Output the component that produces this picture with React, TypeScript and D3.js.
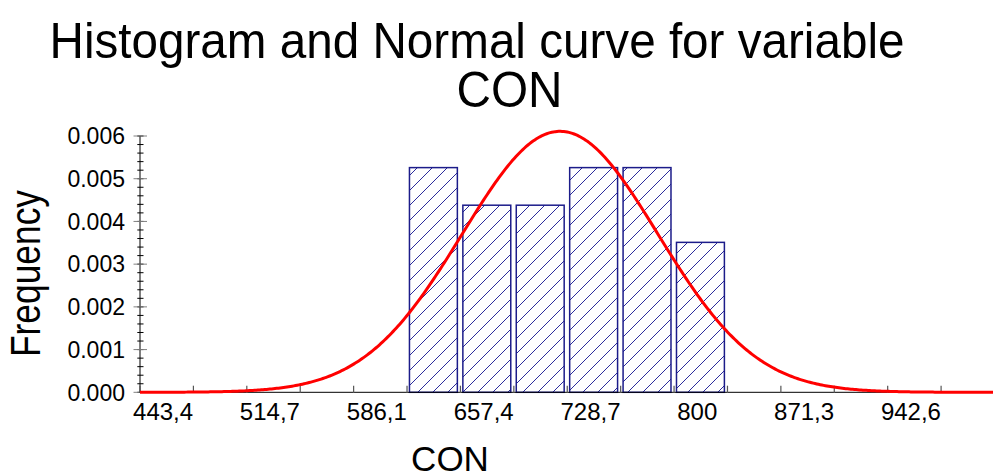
import React from "react";
import * as d3 from "d3";

// Histogram bins (lower edges) and their density heights
const binStarts = [606.2, 641.85, 677.5, 713.15, 748.8, 784.45];
const binWidth = 35.65;
const binDensity = [0.00526, 0.00438, 0.00438, 0.00526, 0.00526, 0.00351];

// Fitted normal distribution
const curveMean = 708.4;
const curveSd = 65.3;

// Axis labels
const xTickValues = [443.4, 514.7, 586.1, 657.4, 728.7, 800, 871.3, 942.6];
const xTickLabels = ["443,4", "514,7", "586,1", "657,4", "728,7", "800", "871,3", "942,6"];
const yTickValues = [0, 0.001, 0.002, 0.003, 0.004, 0.005, 0.006];
const yTickLabels = ["0.000", "0.001", "0.002", "0.003", "0.004", "0.005", "0.006"];

const titleLines = ["Histogram and Normal curve for variable", "CON"];
const xTitle = "CON";
const yTitle = "Frequency";

const W = 993;
const H = 474;
const FONT = "'Liberation Sans', Arial, Helvetica, sans-serif";

export default function App() {
  const xMin = 428.0;
  const xMax = 998.4;
  const x = d3.scaleLinear().domain([xMin, xMax]).range([140, 994.5]);
  const y = d3.scaleLinear().domain([0, 0.006]).range([392.3, 136]);

  // bin-edge tick marks along the x axis
  const xMarks = d3.range(xMin, xMax + 0.01, binWidth);
  // minor ticks on the y axis
  const yMinor = d3.range(0, 0.00601, 0.0002);

  const pdf = (v: number) =>
    Math.exp(-0.5 * ((v - curveMean) / curveSd) ** 2) / (curveSd * Math.sqrt(2 * Math.PI));
  const samples = d3.range(0, 501).map((i) => xMin + ((xMax - xMin) * i) / 500);
  const line = d3
    .line<number>()
    .x((v) => x(v))
    .y((v) => y(pdf(v)))
    .curve(d3.curveLinear);

  return (
    <svg
      width={W}
      height={H}
      viewBox={`0 0 ${W} ${H}`}
      style={{ position: "absolute", left: 0, top: 0, background: "#fff" }}
      fontFamily={FONT}
    >
      <defs>
        <pattern id="hatch" patternUnits="userSpaceOnUse" width={15} height={15}>
          <rect width={15} height={15} fill="#fff" />
          <path
            d="M0,15 L15,0 M-3.75,3.75 L3.75,-3.75 M11.25,18.75 L18.75,11.25"
            stroke="#2b2b9c"
            strokeWidth={1}
          />
        </pattern>
      </defs>
      <rect width={W} height={H} fill="#fff" />

      {/* title */}
      <text x={477} y={58} fontSize={50} textAnchor="middle" textLength={855} lengthAdjust="spacingAndGlyphs">
        {titleLines[0]}
      </text>
      <text x={509.5} y={107} fontSize={50} textAnchor="middle" textLength={106} lengthAdjust="spacingAndGlyphs">
        {titleLines[1]}
      </text>

      {/* bars */}
      {binStarts.map((b, i) => (
        <rect
          key={i}
          x={x(b) + 2.5}
          y={y(binDensity[i])}
          width={x(b + binWidth) - x(b) - 5.5}
          height={y(0) - y(binDensity[i])}
          fill="url(#hatch)"
          stroke="#1c1c8a"
          strokeWidth={1.5}
        />
      ))}

      {/* y axis */}
      <line x1={140} x2={140} y1={y(0.006)} y2={y(0)} stroke="#000" strokeWidth={1} />
      {yMinor.map((v, i) => (
        <line key={i} x1={137.3} x2={143.5} y1={y(v)} y2={y(v)} stroke="#000" strokeWidth={1} />
      ))}
      {yTickValues.map((v, i) => (
        <g key={i}>
          <line x1={133.5} x2={147} y1={y(v)} y2={y(v)} stroke="#808080" strokeWidth={1} />
          <text x={125} y={y(v) + 8.2} fontSize={23} textAnchor="end">
            {yTickLabels[i]}
          </text>
        </g>
      ))}

      {/* x axis */}
      <line x1={139.5} x2={W} y1={y(0)} y2={y(0)} stroke="#000" strokeWidth={1} />
      {xMarks.map((v, i) => (
        <line key={i} x1={x(v)} x2={x(v)} y1={385.7} y2={393} stroke="#555" strokeWidth={1.2} />
      ))}
      {xTickValues.map((v, i) => (
        <text key={i} x={x(v)} y={420} fontSize={24} textAnchor="middle">
          {xTickLabels[i]}
        </text>
      ))}

      {/* normal curve */}
      <path d={line(samples) ?? ""} fill="none" stroke="#ff0000" strokeWidth={3} />

      {/* axis titles */}
      <text x={450} y={471} fontSize={35} textAnchor="middle">
        {xTitle}
      </text>
      <text
        transform="translate(40,273.5) rotate(-90)"
        fontSize={42}
        textAnchor="middle"
        textLength={167}
        lengthAdjust="spacingAndGlyphs"
      >
        {yTitle}
      </text>
    </svg>
  );
}
